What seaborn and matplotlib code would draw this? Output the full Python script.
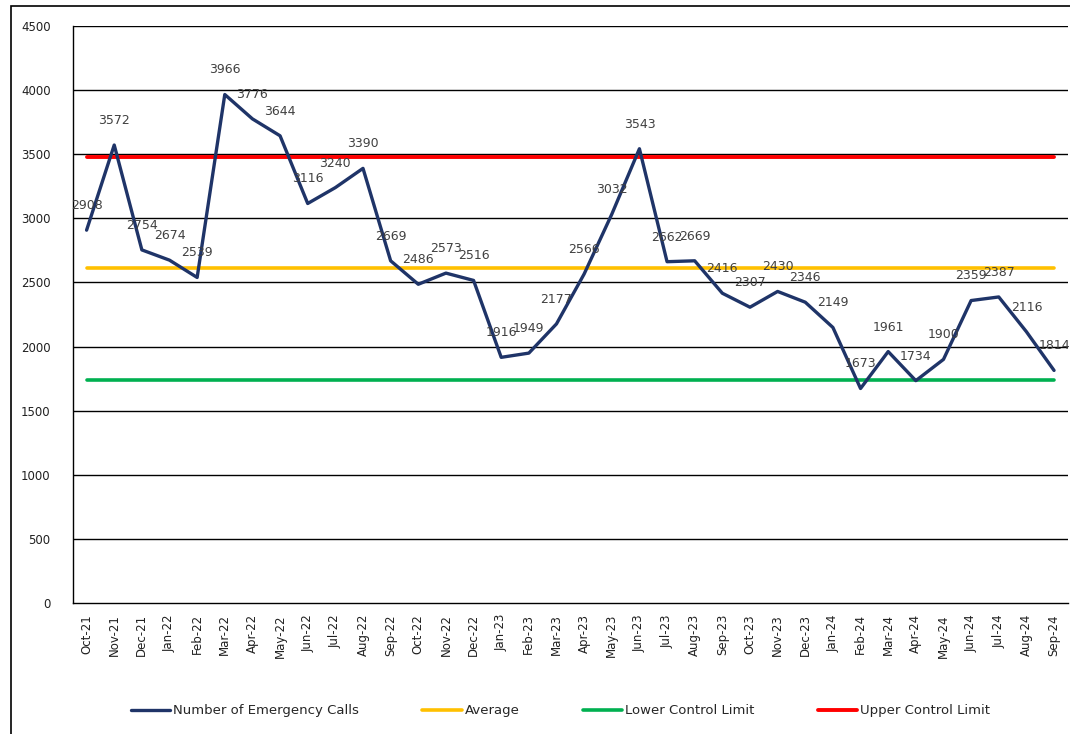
import matplotlib
matplotlib.use('Agg')
import matplotlib.pyplot as plt
import seaborn as sns
import pandas as pd
from matplotlib.patches import Rectangle

# data
months = ['Oct-21', 'Nov-21', 'Dec-21', 'Jan-22', 'Feb-22', 'Mar-22', 'Apr-22', 'May-22',
          'Jun-22', 'Jul-22', 'Aug-22', 'Sep-22', 'Oct-22', 'Nov-22', 'Dec-22', 'Jan-23',
          'Feb-23', 'Mar-23', 'Apr-23', 'May-23', 'Jun-23', 'Jul-23', 'Aug-23', 'Sep-23',
          'Oct-23', 'Nov-23', 'Dec-23', 'Jan-24', 'Feb-24', 'Mar-24', 'Apr-24', 'May-24',
          'Jun-24', 'Jul-24', 'Aug-24', 'Sep-24']
calls = [2908, 3572, 2754, 2674, 2539, 3966, 3776, 3644, 3116, 3240, 3390, 2669,
         2486, 2573, 2516, 1916, 1949, 2177, 2566, 3032, 3543, 2662, 2669, 2416,
         2307, 2430, 2346, 2149, 1673, 1961, 1734, 1900, 2359, 2387, 2116, 1814]
average = 2609
lcl = 1740
ucl = 3478
y_ticks = [0, 500, 1000, 1500, 2000, 2500, 3000, 3500, 4000, 4500]

df = pd.DataFrame({'Month': months, 'Calls': calls})
df['Average'] = average
df['LCL'] = lcl
df['UCL'] = ucl

sns.set_style('white')
plt.rcParams['font.family'] = ['DejaVu Sans']

fig = plt.figure(figsize=(10.7, 7.34), dpi=100)
ax = fig.add_axes([0.068, 0.1785, 0.93, 0.786])

sns.lineplot(data=df, x='Month', y='Average', ax=ax, color='#FFC000', lw=2.6,
             label='Average', zorder=2)
sns.lineplot(data=df, x='Month', y='LCL', ax=ax, color='#00B050', lw=2.6,
             label='Lower Control Limit', zorder=2)
sns.lineplot(data=df, x='Month', y='UCL', ax=ax, color='#FF0000', lw=2.8,
             label='Upper Control Limit', zorder=2)
sns.lineplot(data=df, x='Month', y='Calls', ax=ax, color='#1F3468', lw=2.4,
             label='Number of Emergency Calls', zorder=3)

# data labels
for i, v in enumerate(calls):
    ax.annotate(str(v), (i, v), xytext=(0, 13), textcoords='offset points',
                ha='center', va='bottom', fontsize=9, color='#404040', zorder=4)

ax.set_ylim(0, 4500)
ax.set_xlim(-0.5, len(months) - 0.5)
ax.set_yticks(y_ticks)
ax.set_yticklabels([str(t) for t in y_ticks], fontsize=8.5, color='#202020')
for t in y_ticks[1:]:
    ax.axhline(t, color='black', lw=1.0, zorder=1)

ax.set_xticks(range(len(months)))
ax.set_xticklabels(months, rotation=90, fontsize=8.5, color='#202020')
ax.set_xticks([i - 0.5 for i in range(len(months) + 1)], minor=True)
ax.tick_params(axis='x', which='major', length=0, pad=8)
ax.tick_params(axis='x', which='minor', length=5, width=1, color='black', direction='out')
ax.tick_params(axis='y', length=0, pad=16)
ax.set_xlabel('')
ax.set_ylabel('')

for side in ['top', 'right']:
    ax.spines[side].set_visible(False)
for side in ['left', 'bottom']:
    ax.spines[side].set_color('black')
    ax.spines[side].set_linewidth(1.0)

handles, labels = ax.get_legend_handles_labels()
order = [3, 0, 1, 2]
ax.legend([handles[i] for i in order], [labels[i] for i in order],
          loc='upper center', bbox_to_anchor=(0.49, -0.155), ncol=4, frameon=False,
          fontsize=9.5, handlelength=3.0, handletextpad=0.2, columnspacing=4.8)

# outer chart border
fig.patches.append(Rectangle((0.0103, -0.1), 1.1, 1.0918, transform=fig.transFigure,
                             fill=False, edgecolor='black', lw=1.2))

plt.savefig('out.png', dpi=100)
